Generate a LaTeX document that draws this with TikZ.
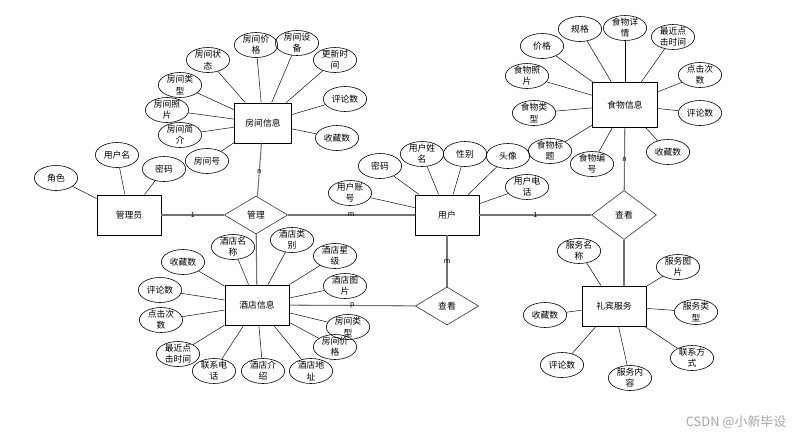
\documentclass[tikz,border=0pt]{standalone}
\usepackage{fontspec}
\setmainfont{Noto Sans CJK SC}
\usetikzlibrary{shapes.geometric}

\tikzstyle{entity} = [rectangle,draw=black,line width=0.8pt,minimum width=1.92cm,minimum height=1.2cm,inner sep=0pt,font=\fontsize{7.5}{9}\selectfont]
\tikzstyle{attr} = [ellipse,draw=black,line width=0.5pt,minimum width=1.3cm,minimum height=0.75cm,inner xsep=1pt,inner ysep=-2pt,align=center,font=\fontsize{7.5}{9.5}\selectfont]
\tikzstyle{relation} = [diamond,draw=black!80,line width=0.5pt,minimum width=1.9cm,minimum height=1.14cm,inner sep=0pt,font=\fontsize{7.5}{9}\selectfont]
\tikzstyle{link} = [draw=black!55,line width=0.9pt]
\tikzstyle{card} = [inner sep=0.5pt,font=\fontsize{6}{6}\selectfont]

\begin{document}
\begin{tikzpicture}[x=0.03cm,y=-0.03cm]
		\useasboundingbox (0,0) rectangle (809,439);
		% entities
		\node[entity,minimum width=1.71cm] (room) at (263,123) {房间信息};
		\node[entity,minimum width=1.95cm,minimum height=1.35cm] (food) at (625,105) {食物信息};
		\node[entity] (admin) at (129,215) {管理员};
		\node[entity] (user) at (447,215) {用户};
		\node[entity] (hotel) at (257,305) {酒店信息};
		\node[entity] (serv) at (614,306) {礼宾服务};
		% relations
		\node[relation] (gl) at (256,215) {管理};
		\node[relation,minimum width=1.95cm,minimum height=1.47cm] (ck1) at (624,215) {查看};
		\node[relation] (ck2) at (447,306) {查看};
		% room attributes
		\node[attr] (r1) at (256,45) {房间价\\格};
		\node[attr] (r2) at (297,43) {房间设\\备};
		\node[attr] (r3) at (335,60) {更新时\\间};
		\node[attr] (r4) at (208,60) {房间状\\态};
		\node[attr] (r5) at (180,85) {房间类\\型};
		\node[attr] (r6) at (167,110) {房间照\\片};
		\node[attr] (r7) at (180,135) {房间简\\介};
		\node[attr] (r8) at (207,161) {房间号};
		\node[attr] (r9) at (345,99) {评论数};
		\node[attr] (r10) at (337,138) {收藏数};
		\draw (r1) -- (room);
		\draw (r2) -- (room);
		\draw (r3) -- (room);
		\draw (r4) -- (room);
		\draw (r5) -- (room);
		\draw (r6) -- (room);
		\draw (r7) -- (room);
		\draw (r8) -- (room);
		\draw (r9) -- (room);
		\draw (r10) -- (room);
		% food attributes
		\node[attr] (f1) at (542,46) {价格};
		\node[attr] (f2) at (580,29) {规格};
		\node[attr] (f3) at (625,28) {食物详\\情};
		\node[attr] (f4) at (673,37) {最近点\\击时间};
		\node[attr] (f5) at (700,75) {点击次\\数};
		\node[attr] (f6) at (700,113) {评论数};
		\node[attr] (f7) at (668,152) {收藏数};
		\node[attr] (f8) at (592,164) {食物编\\号};
		\node[attr] (f9) at (550,151) {食物标\\题};
		\node[attr] (f10) at (534,113) {食物类\\型};
		\node[attr] (f11) at (527,76) {食物照\\片};
		\draw (f1) -- (food);
		\draw (f2) -- (food);
		\draw (f3) -- (food);
		\draw (f4) -- (food);
		\draw (f5) -- (food);
		\draw (f6) -- (food);
		\draw (f7) -- (food);
		\draw (f8) -- (food);
		\draw (f9) -- (food);
		\draw (f10) -- (food);
		\draw (f11) -- (food);
		% admin attributes
		\node[attr] (a1) at (56,178) {角色};
		\node[attr] (a2) at (117,155) {用户名};
		\node[attr] (a3) at (164,169) {密码};
		\draw (a1) -- (admin);
		\draw (a2) -- (admin);
		\draw (a3) -- (admin);
		% user attributes
		\node[attr] (u1) at (350,193) {用户账\\号};
		\node[attr] (u2) at (380,166) {密码};
		\node[attr] (u3) at (422,154) {用户姓\\名};
		\node[attr] (u4) at (465,154) {性别};
		\node[attr] (u5) at (508,156) {头像};
		\node[attr] (u6) at (527,187) {用户电\\话};
		\draw (u1) -- (user);
		\draw (u2) -- (user);
		\draw (u3) -- (user);
		\draw (u4) -- (user);
		\draw (u5) -- (user);
		\draw (u6) -- (user);
		% hotel attributes
		\node[attr] (h1) at (233,247) {酒店名\\称};
		\node[attr] (h2) at (292,240) {酒店类\\别};
		\node[attr] (h3) at (335,256) {酒店星\\级};
		\node[attr] (h4) at (345,286) {酒店图\\片};
		\node[attr] (h5) at (348,327) {房间类\\型};
		\node[attr] (h6) at (335,347) {房间价\\格};
		\node[attr] (h7) at (311,371) {酒店地\\址};
		\node[attr] (h8) at (263,371) {酒店介\\绍};
		\node[attr] (h9) at (214,371) {联系电\\话};
		\node[attr] (h10) at (178,354) {最近点\\击时间};
		\node[attr] (h11) at (161,320) {点击次\\数};
		\node[attr] (h12) at (160,290) {评论数};
		\node[attr] (h13) at (183,262) {收藏数};
		\draw (h1) -- (hotel);
		\draw (h2) -- (hotel);
		\draw (h3) -- (hotel);
		\draw (h4) -- (hotel);
		\draw (h5) -- (hotel);
		\draw (h6) -- (hotel);
		\draw (h7) -- (hotel);
		\draw (h8) -- (hotel);
		\draw (h9) -- (hotel);
		\draw (h10) -- (hotel);
		\draw (h11) -- (hotel);
		\draw (h12) -- (hotel);
		\draw (h13) -- (hotel);
		% service attributes
		\node[attr] (s1) at (579,251) {服务名\\称};
		\node[attr] (s2) at (678,267) {服务图\\片};
		\node[attr] (s3) at (696,312) {服务类\\型};
		\node[attr] (s4) at (692,358) {联系方\\式};
		\node[attr] (s5) at (630,378) {服务内\\容};
		\node[attr] (s6) at (562,365) {评论数};
		\node[attr] (s7) at (545,315) {收藏数};
		\draw (s1) -- (serv);
		\draw (s2) -- (serv);
		\draw (s3) -- (serv);
		\draw (s4) -- (serv);
		\draw (s5) -- (serv);
		\draw (s6) -- (serv);
		\draw (s7) -- (serv);
		% relation links
		\coordinate (sv) at (ck1.south |- serv.north);
		\draw[link] (room) -- node[card,pos=0.52] {n} (gl);
		\draw[link] (admin) -- node[card] {1} (gl);
		\draw[link] (gl) -- node[card] {m} (user);
		\draw[link] (gl) -- (hotel);
		\draw[link] (user) -- node[card] {1} (ck1);
		\draw[link] (food) -- node[card] {n} (ck1);
		\draw[link] (ck1.south) -- (sv);
		\draw[link] (user) -- node[card] {m} (ck2);
		\draw[link] (hotel) -- node[card,pos=0.5] {p} (ck2);
		% watermark
		\node[text=black!35,font=\fontsize{11}{12}\selectfont] (wm) at (736,422) {CSDN @小新毕设};
\end{tikzpicture}
\end{document}
